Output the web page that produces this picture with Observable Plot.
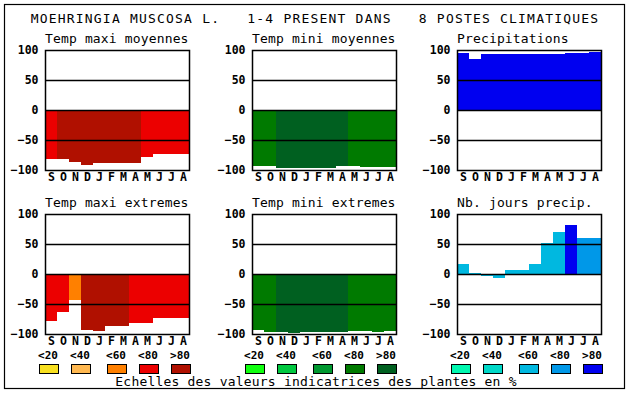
<!DOCTYPE html>
<html><head><meta charset="utf-8">
<script src="https://cdn.jsdelivr.net/npm/d3@7"></script>
<script src="https://cdn.jsdelivr.net/npm/@observablehq/plot@0.6"></script>
<style>
html,body{margin:0;padding:0;background:#fff;}
#root{position:relative;width:630px;height:394px;overflow:hidden;font-family:"DejaVu Sans Mono",monospace;}
</style></head><body><div id="root"></div>
<script>
// ---- data ----
const months = ["S","O","N","D","J","F","M","A","M","J","J","A"];
const yTicks = [-100, -50, 0, 50, 100];
const gridLines = [-50, 0, 50];

const tmaxMoy = [-81,-81,-87,-91,-88,-88,-88,-88,-78,-73,-73,-73];
const tmaxMoyClass = [3,4,4,4,4,4,4,4,3,3,3,3];
const tminMoy = [-94,-94,-96,-96,-96,-96,-96,-94,-93,-95,-95,-95];
const tminMoyClass = [3,3,4,4,4,4,4,4,3,3,3,3];
const precip = [95,85,93,93,93,93,93,93,93,95,95,97];
const precipClass = [4,4,4,4,4,4,4,4,4,4,4,4];
const tmaxExt = [-78,-63,-44,-93,-95,-86,-86,-81,-81,-74,-73,-73];
const tmaxExtClass = [3,3,2,4,4,4,4,3,3,3,3,3];
const tminExt = [-93,-96,-96,-98,-96,-96,-96,-96,-95,-95,-96,-95];
const tminExtClass = [3,3,4,4,4,4,4,4,3,3,3,3];
const nbJours = [17,2,-3,-6,7,7,17,52,70,82,60,60];
const nbJoursClass = [2,2,2,2,2,2,2,2,2,4,3,3];

const legendLabels = ["<20","<40","<60","<80",">80"];
const redScale = ["#f8e020","#ffb850","#ff8000","#ec0000","#b01000"];
const greenScale = ["#10ff10","#00c840","#009830","#007a00","#006020"];
const blueScale = ["#00f8b0","#00d8c8","#00b8e0","#0098e8","#0000f0"];

const mainTitle = "MOEHRINGIA MUSCOSA L.   1-4 PRESENT DANS   8 POSTES CLIMATIQUES";
const footer = "Echelles des valeurs indicatrices des plantes en %";

const panels = [
  {title:"Temp maxi moyennes", values:tmaxMoy, classes:tmaxMoyClass, palette:redScale, x:45, y:50},
  {title:"Temp mini moyennes", values:tminMoy, classes:tminMoyClass, palette:greenScale, x:252, y:50},
  {title:"Precipitations", values:precip, classes:precipClass, palette:blueScale, x:457, y:50},
  {title:"Temp maxi extremes", values:tmaxExt, classes:tmaxExtClass, palette:redScale, x:45, y:214},
  {title:"Temp mini extremes", values:tminExt, classes:tminExtClass, palette:greenScale, x:252, y:214},
  {title:"Nb. jours precip.", values:nbJours, classes:nbJoursClass, palette:blueScale, x:457, y:214}
];
const legendGroups = [
  {palette:redScale, x:39},
  {palette:greenScale, x:245},
  {palette:blueScale, x:451}
];
const swatchOffsets = [0,32,68,100,132];

// ---- overlay (border, titles, legend) ----
const root = document.getElementById("root");
const ov = d3.select(root).append("svg")
  .attr("width",630).attr("height",394)
  .style("position","absolute").style("left","0px").style("top","0px")
  .style("font-family","'DejaVu Sans Mono', monospace");
ov.append("rect").attr("x",4.5).attr("y",4.5).attr("width",620).attr("height",384)
  .attr("fill","none").attr("stroke","black").attr("stroke-width",1.2);
ov.append("text").attr("x",315).attr("y",23).attr("text-anchor","middle")
  .style("white-space","pre").attr("xml:space","preserve")
  .style("font-size","13px").style("letter-spacing","1.2px").text(mainTitle);
for (const p of panels) {
  ov.append("text").attr("x",p.x).attr("y",p.y-7)
    .style("font-size","13px").style("letter-spacing","0.15px").text(p.title);
}
for (const g of legendGroups) {
  g.palette.forEach((c,k) => {
    const sx = g.x + swatchOffsets[k];
    ov.append("text").attr("x",sx+9).attr("y",358.5).attr("text-anchor","middle")
      .style("font-size","11px").style("font-weight","bold").text(legendLabels[k]);
    ov.append("rect").attr("x",sx+0.5).attr("y",364.5).attr("width",19).attr("height",9)
      .attr("fill",c).attr("stroke","black").attr("stroke-width",1);
  });
}
ov.append("text").attr("x",316).attr("y",386).attr("text-anchor","middle")
  .style("font-size","13px").style("letter-spacing","0.2px").text(footer);

// ---- panels ----
for (const p of panels) {
  const data = months.map((m,i) => ({i, v:p.values[i], c:p.palette[p.classes[i]]}));
  const chart = Plot.plot({
    width: 200, height: 146,
    marginLeft: 40, marginRight: 16, marginTop: 6, marginBottom: 20,
    style: {fontFamily:"DejaVu Sans Mono, monospace", fontSize:"11.5px", fontWeight:"bold", background:"transparent", overflow:"visible"},
    x: {type:"band", domain: d3.range(12), padding: 0, tickSize: 0, tickPadding: 2, tickFormat: i => months[i], label: null},
    y: {domain:[-100,100], ticks: yTicks, tickSize: 0, tickPadding: 7, label: null},
    color: {type:"identity"},
    marks: [
      Plot.barY(data, {x:"i", y:"v", fill:"c", shapeRendering:"crispEdges"}),
      Plot.ruleY(gridLines, {stroke:"black", strokeWidth:1.5}),
      Plot.frame({stroke:"black", strokeWidth:1.5})
    ]
  });
  chart.style.position = "absolute";
  chart.style.left = (p.x - 40) + "px";
  chart.style.top = (p.y - 6) + "px";
  root.appendChild(chart);
}
</script></body></html>
